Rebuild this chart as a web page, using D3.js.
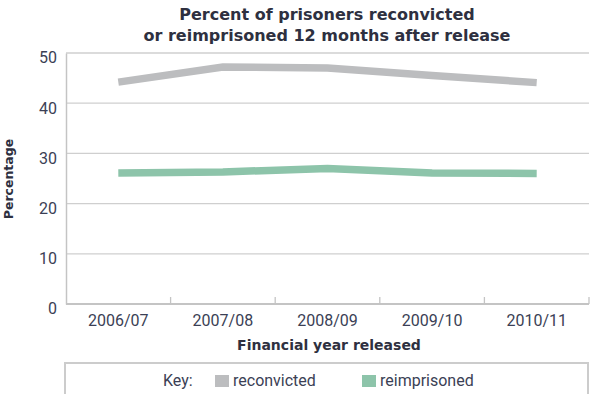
<!DOCTYPE html>
<html>
<head>
<meta charset="utf-8">
<script src="https://cdn.jsdelivr.net/npm/d3@7"></script>
<style>
  body { margin: 0; background: #fff; }
  svg { display: block; font-family: "Roboto", "Open Sans", sans-serif; }
</style>
</head>
<body>
<div id="chart"></div>
<script>
// data
var years = ["2006/07", "2007/08", "2008/09", "2009/10", "2010/11"];
var reconvicted = [44.2, 47.2, 47.0, 45.5, 44.1];
var reimprisoned = [26.1, 26.3, 27.0, 26.1, 26.0];
var yTicks = [0, 10, 20, 30, 40, 50];
var seriesNames = ["reconvicted", "reimprisoned"];
var seriesColours = ["#bcbdbf", "#8dc4aa"];

var W = 597, H = 394;
var margin = { top: 53, right: 8, bottom: 90, left: 66 };
var width = W - margin.left - margin.right,
    height = H - margin.top - margin.bottom;

var textCol = "#3b3f55";
var boldFont = "'DejaVu Sans', sans-serif";

var svg = d3.select("#chart").append("svg")
  .attr("width", W)
  .attr("height", H);

var g = svg.append("g")
  .attr("transform", "translate(" + margin.left + "," + margin.top + ")");

var x = d3.scaleBand().domain(years).range([0, width]);
var y = d3.scaleLinear().domain([0, 50]).range([height, 0]);

// title
["Percent of prisoners reconvicted", "or reimprisoned 12 months after release"].forEach(function(t, i){
  svg.append("text")
    .attr("x", 327).attr("y", 20 + i * 20.5)
    .attr("text-anchor", "middle")
    .style("font-family", boldFont)
    .style("font-weight", "bold").style("font-size", "16px")
    .attr("fill", "#2e3040")
    .text(t);
});

// gridlines
g.selectAll(".grid")
  .data(yTicks.filter(function(d){ return d > 0; }))
  .enter().append("line")
  .attr("class", "grid")
  .attr("x1", 0).attr("x2", width)
  .attr("y1", function(d){ return y(d); })
  .attr("y2", function(d){ return y(d); })
  .attr("stroke", "#cfcfcf").attr("stroke-width", 1.3);

// y axis
var yAxis = d3.axisLeft(y).tickValues(yTicks).tickSize(0).tickPadding(9);
var yg = g.append("g").call(yAxis);
yg.select(".domain").attr("stroke", "#c4c4c4").attr("stroke-width", 1.5);
yg.selectAll("text")
  .attr("dy", "0.62em")
  .style("font-size", "16px").attr("fill", textCol)
  .style("font-family", "Roboto, sans-serif");

// x axis, ticks pointing up between bands
var xg = g.append("g").attr("transform", "translate(0," + height + ")");
xg.append("line")
  .attr("x1", 0).attr("x2", width)
  .attr("stroke", "#c4c4c4").attr("stroke-width", 2);
xg.selectAll(".xtick")
  .data(years)
  .enter().append("line")
  .attr("class", "xtick")
  .attr("x1", function(d){ return x(d) + x.bandwidth(); })
  .attr("x2", function(d){ return x(d) + x.bandwidth(); })
  .attr("y1", 0).attr("y2", -7)
  .attr("stroke", "#c4c4c4").attr("stroke-width", 1.3);
xg.selectAll(".xlab")
  .data(years)
  .enter().append("text")
  .attr("x", function(d){ return x(d) + x.bandwidth() / 2; })
  .attr("y", 22)
  .attr("text-anchor", "middle")
  .style("font-size", "16px").attr("fill", textCol)
  .text(function(d){ return d; });

// axis titles
svg.append("text")
  .attr("x", 329).attr("y", 350)
  .attr("text-anchor", "middle")
  .style("font-family", boldFont)
  .style("font-weight", "bold").style("font-size", "14px")
  .attr("fill", "#2e3040")
  .text("Financial year released");
svg.append("text")
  .attr("transform", "translate(13,179) rotate(-90)")
  .attr("text-anchor", "middle")
  .style("font-family", boldFont)
  .style("font-weight", "bold").style("font-size", "12.5px")
  .attr("fill", "#2e3040")
  .text("Percentage");

// lines
var line = d3.line()
  .x(function(d, i){ return x(years[i]) + x.bandwidth() / 2; })
  .y(function(d){ return y(d); });

[reconvicted, reimprisoned].forEach(function(s, i){
  g.append("path")
    .datum(s)
    .attr("d", line)
    .attr("fill", "none")
    .attr("stroke", seriesColours[i])
    .attr("stroke-width", 7.5)
    .attr("stroke-linejoin", "miter");
});

// legend / key box
svg.append("rect")
  .attr("x", 65).attr("y", 363)
  .attr("width", 523).attr("height", 60)
  .attr("fill", "none").attr("stroke", "#cccccc").attr("stroke-width", 2);

svg.append("text")
  .attr("x", 163).attr("y", 386)
  .style("font-size", "16px").attr("fill", textCol)
  .text("Key:");

var keyX = [215, 362];
seriesNames.forEach(function(n, i){
  svg.append("rect")
    .attr("x", keyX[i]).attr("y", 375)
    .attr("width", 14).attr("height", 12)
    .attr("fill", seriesColours[i]);
  svg.append("text")
    .attr("x", keyX[i] + 18).attr("y", 386)
    .style("font-size", "16px").attr("fill", textCol)
    .text(n);
});
</script>
</body>
</html>
